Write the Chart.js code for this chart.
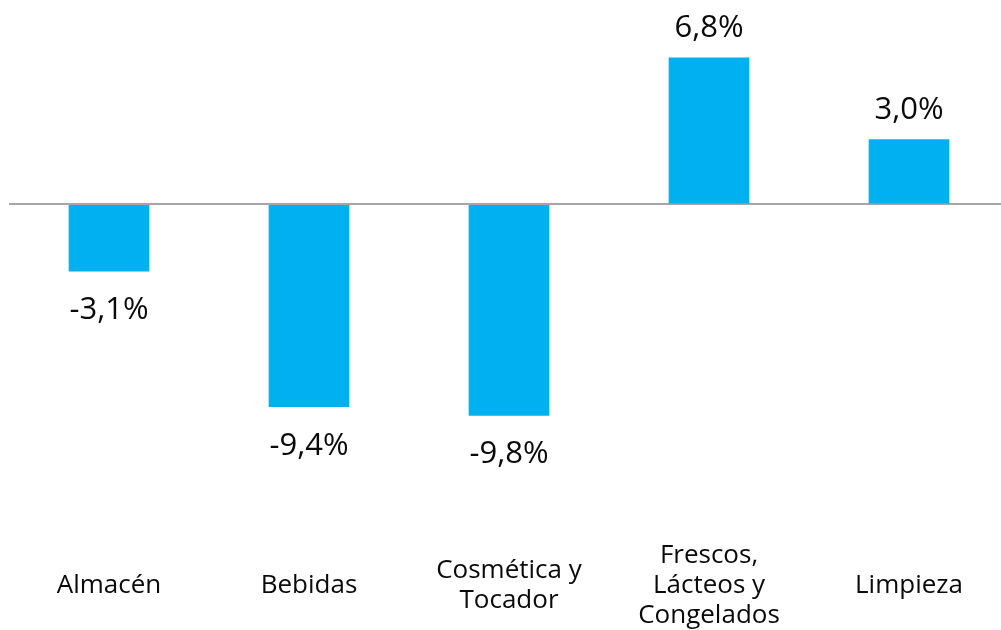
<!DOCTYPE html>
<html>
<head>
<meta charset="utf-8">
<script src="https://cdn.jsdelivr.net/npm/chart.js@4/dist/chart.umd.min.js"></script>
<style>
  html, body { margin: 0; padding: 0; background: #fff; overflow: hidden; }
  #wrap { width: 1001px; height: 630px; overflow: hidden; }
</style>
</head>
<body>
<div id="wrap"><canvas id="chart" width="1009" height="650"></canvas></div>
<script>
const categories = [
  "Almacén",
  "Bebidas",
  ["Cosmética y", "Tocador"],
  ["Frescos,", "Lácteos y", "Congelados"],
  "Limpieza"
];
const variation = [-3.1, -9.4, -9.8, 6.8, 3.0];

const barColour = "#00B0F0";
const fontFamily = "'Open Sans', 'Noto Sans', sans-serif";

// value labels above/below each bar
const valueLabels = {
  id: "valueLabels",
  afterDatasetsDraw(chart) {
    const ctx = chart.ctx;
    const meta = chart.getDatasetMeta(0);
    ctx.save();
    ctx.font = "31px " + fontFamily;
    ctx.fillStyle = "#0a0a0a";
    ctx.textAlign = "center";
    ctx.textBaseline = "alphabetic";
    meta.data.forEach((bar, i) => {
      const v = variation[i];
      const txt = v.toFixed(1).replace(".", ",") + "%";
      const y = v >= 0 ? bar.y - 21 : bar.y + 48;
      ctx.fillText(txt, bar.x, y);
    });
    ctx.restore();
  }
};

new Chart(document.getElementById("chart"), {
  type: "bar",
  data: {
    labels: categories,
    datasets: [{
      data: variation,
      backgroundColor: barColour,
      borderWidth: 0,
      barThickness: 80
    }]
  },
  options: {
    responsive: false,
    animation: false,
    layout: { padding: { top: 34, bottom: 2, left: 9, right: 0 } },
    plugins: { legend: { display: false }, tooltip: { enabled: false } },
    scales: {
      x: {
        grid: { display: false, drawTicks: false },
        border: { display: false },
        ticks: {
          color: "#0a0a0a",
          font: { family: fontFamily, size: 26, lineHeight: "30px" },
          maxRotation: 0,
          autoSkip: false,
          crossAlign: "center",
          padding: 2.5
        },
        // let the multi-line labels spill above the axis box
        afterFit: (scale) => { scale._computeLabelArea = () => undefined; }
      },
      y: {
        min: -16.19,
        max: 7.906,
        afterBuildTicks: (scale) => { scale.ticks = [{ value: 0 }]; },
        ticks: { display: false },
        border: { display: false },
        grid: {
          color: "#A6A6A6",
          lineWidth: 2,
          drawTicks: false
        }
      }
    }
  },
  plugins: [valueLabels]
});
</script>
</body>
</html>
